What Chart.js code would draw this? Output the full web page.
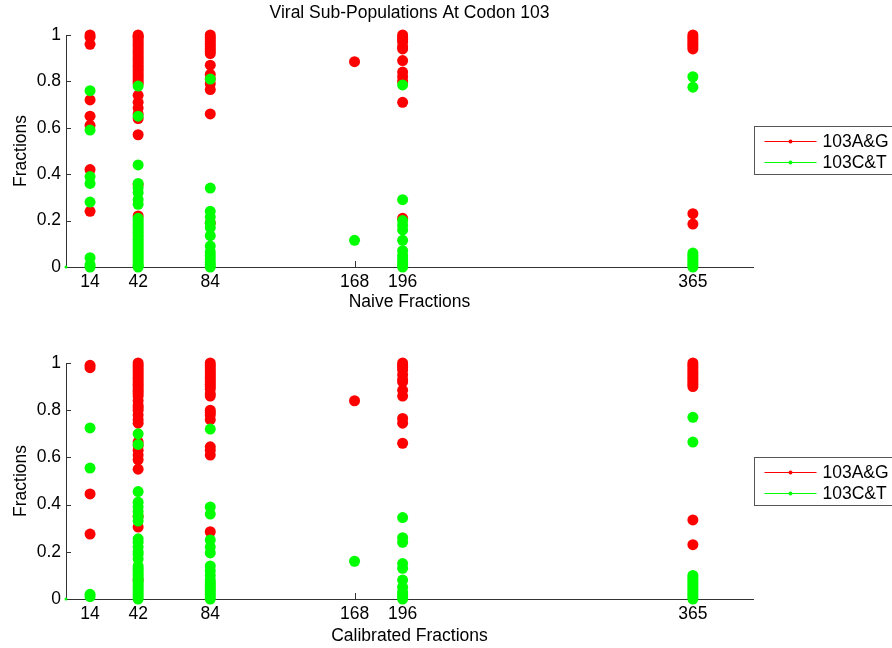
<!DOCTYPE html>
<html>
<head>
<meta charset="utf-8">
<title>Viral Sub-Populations At Codon 103</title>
<script src="https://cdn.jsdelivr.net/npm/chart.js@4.4.1/dist/chart.umd.min.js"></script>
<style>
  html, body { margin: 0; padding: 0; background: #ffffff; }
  canvas { display: block; }
</style>
</head>
<body>
<canvas id="naive" width="892" height="320"></canvas>
<canvas id="calibrated" width="892" height="328"></canvas>
<script>
// Sampling days (x positions and x tick labels)
const days = [14, 42, 84, 168, 196, 365];
const seriesNames = ['103A&G', '103C&T'];
const yTickValues = [0, 0.2, 0.4, 0.6, 0.8, 1];

// Naive fractions, one list per sampling day
const naiveAG = [
  [1.0, 0.99, 0.96, 0.72, 0.65, 0.61, 0.42, 0.24],
  [1.0, 0.995, 0.99, 0.98, 0.97, 0.96, 0.95, 0.94, 0.93, 0.92, 0.91, 0.90, 0.89, 0.88, 0.87, 0.86,
   0.85, 0.84, 0.83, 0.82, 0.81, 0.80, 0.79, 0.74, 0.71, 0.685, 0.66, 0.64, 0.57, 0.355, 0.22],
  [1.0, 0.99, 0.98, 0.97, 0.96, 0.95, 0.94, 0.93, 0.92, 0.87, 0.83, 0.81, 0.79, 0.765, 0.66, 0.19],
  [0.885],
  [1.0, 0.99, 0.98, 0.97, 0.95, 0.94, 0.89, 0.84, 0.82, 0.80, 0.71, 0.21],
  [1.0, 0.99, 0.98, 0.97, 0.96, 0.95, 0.94, 0.23, 0.185]
];
const naiveCT = [
  [0.0, 0.01, 0.04, 0.28, 0.36, 0.39, 0.59, 0.76],
  [0.0, 0.005, 0.01, 0.02, 0.03, 0.04, 0.05, 0.06, 0.07, 0.08, 0.09, 0.10, 0.11, 0.12, 0.13, 0.14,
   0.15, 0.16, 0.17, 0.18, 0.19, 0.20, 0.21, 0.27, 0.29, 0.32, 0.34, 0.36, 0.44, 0.65, 0.78],
  [0.0, 0.01, 0.02, 0.035, 0.05, 0.065, 0.09, 0.135, 0.17, 0.19, 0.215, 0.24, 0.34, 0.81],
  [0.115],
  [0.0, 0.01, 0.02, 0.035, 0.05, 0.07, 0.115, 0.16, 0.18, 0.20, 0.29, 0.785],
  [0.0, 0.01, 0.02, 0.03, 0.04, 0.05, 0.06, 0.775, 0.82]
];

// Calibrated fractions, one list per sampling day
const calibAG = [
  [0.99, 0.98, 0.445, 0.275],
  [1.0, 0.99, 0.98, 0.97, 0.96, 0.95, 0.94, 0.93, 0.92, 0.91, 0.90, 0.89, 0.88, 0.87, 0.86, 0.84,
   0.82, 0.81, 0.80, 0.78, 0.76, 0.745, 0.665, 0.65, 0.63, 0.61, 0.59, 0.55, 0.35, 0.305, 0.08],
  [1.0, 0.99, 0.98, 0.97, 0.96, 0.95, 0.94, 0.93, 0.92, 0.91, 0.90, 0.89, 0.87, 0.86, 0.80, 0.79,
   0.78, 0.76, 0.645, 0.63, 0.61, 0.285],
  [0.84],
  [1.0, 0.99, 0.98, 0.97, 0.95, 0.93, 0.92, 0.885, 0.86, 0.765, 0.745, 0.66],
  [1.0, 0.99, 0.98, 0.97, 0.96, 0.95, 0.94, 0.93, 0.92, 0.91, 0.90, 0.335, 0.23]
];
const calibCT = [
  [0.01, 0.02, 0.555, 0.725],
  [0.0, 0.01, 0.02, 0.03, 0.04, 0.05, 0.06, 0.07, 0.08, 0.09, 0.10, 0.11, 0.12, 0.13, 0.14, 0.17,
   0.19, 0.20, 0.22, 0.24, 0.255, 0.33, 0.35, 0.37, 0.39, 0.41, 0.455, 0.655, 0.70],
  [0.0, 0.01, 0.02, 0.03, 0.04, 0.05, 0.06, 0.07, 0.08, 0.10, 0.12, 0.14, 0.195, 0.22, 0.25, 0.36,
   0.39, 0.72],
  [0.16],
  [0.0, 0.01, 0.02, 0.03, 0.05, 0.08, 0.13, 0.15, 0.24, 0.26, 0.345],
  [0.0, 0.01, 0.02, 0.03, 0.04, 0.05, 0.06, 0.07, 0.08, 0.09, 0.10, 0.665, 0.77]
];

// Stray marker sitting at the origin of each panel
const originMark = [[0, 0]];

const FONT = '"Liberation Sans", Arial, Helvetica, sans-serif';
const FONT_SIZE = 17.5;
const AXIS_COLOR = '#333333';
const RED = '#ff0000';
const GREEN = '#00ff00';

function toPoints(groups) {
  return groups.flatMap((vals, i) => vals.map(v => ({ x: days[i], y: v })));
}

// Title above the upper panel, centred on the plotting area
const titlePlugin = {
  id: 'panelTitle',
  afterDraw(chart, args, opts) {
    if (!opts.text) return;
    const { ctx, chartArea } = chart;
    ctx.save();
    ctx.font = FONT_SIZE + 'px ' + FONT;
    ctx.fillStyle = '#000';
    ctx.textAlign = 'center';
    ctx.textBaseline = 'middle';
    ctx.fillText(opts.text, (chartArea.left + chartArea.right) / 2, opts.y);
    ctx.restore();
  }
};

// Short tick marks pointing into the plot area
const innerTicks = {
  id: 'innerTicks',
  beforeDatasetsDraw(chart) {
    const { ctx, chartArea, scales } = chart;
    ctx.save();
    ctx.strokeStyle = AXIS_COLOR;
    ctx.lineWidth = 1;
    ctx.beginPath();
    scales.y.ticks.forEach(t => {
      const y = Math.round(scales.y.getPixelForValue(t.value)) + 0.5;
      ctx.moveTo(chartArea.left, y);
      ctx.lineTo(chartArea.left + 5, y);
    });
    scales.x.ticks.forEach(t => {
      const x = Math.round(scales.x.getPixelForValue(t.value)) + 0.5;
      ctx.moveTo(x, chartArea.bottom);
      ctx.lineTo(x, chartArea.bottom - 6);
    });
    ctx.stroke();
    ctx.restore();
  }
};

// Boxed legend to the right of the plotting area
const sideLegend = {
  id: 'sideLegend',
  afterDraw(chart, args, opts) {
    const { ctx, chartArea } = chart;
    const items = chart.data.datasets.filter(d => d.inLegend);
    const x0 = chartArea.right + 1.5;
    const y0 = opts.top + 0.5;
    ctx.save();
    ctx.fillStyle = '#ffffff';
    ctx.fillRect(x0, y0, 160, 48);
    ctx.strokeStyle = '#555555';
    ctx.lineWidth = 1;
    ctx.strokeRect(x0, y0, 160, 48);
    ctx.font = FONT_SIZE + 'px ' + FONT;
    ctx.textBaseline = 'middle';
    ctx.textAlign = 'left';
    items.forEach((d, i) => {
      const y = Math.round(y0 + 14.5 + i * 20.5) + 0.5;
      ctx.strokeStyle = d.backgroundColor;
      ctx.beginPath();
      ctx.moveTo(x0 + 10, y);
      ctx.lineTo(x0 + 62, y);
      ctx.stroke();
      ctx.fillStyle = d.backgroundColor;
      ctx.beginPath();
      ctx.arc(x0 + 36, y, 2, 0, Math.PI * 2);
      ctx.fill();
      ctx.fillStyle = '#000';
      ctx.fillText(d.label, x0 + 68, y + 1);
    });
    ctx.restore();
  }
};

function makePanel(id, ag, ct, xTitle, cfg) {
  return new Chart(document.getElementById(id), {
    type: 'scatter',
    data: {
      datasets: [
        {
          label: seriesNames[0], inLegend: true,
          data: toPoints(ag),
          backgroundColor: RED, borderColor: RED, borderWidth: 0,
          pointRadius: 5.5, pointHoverRadius: 5.5, clip: false, order: 1
        },
        {
          label: seriesNames[1], inLegend: true,
          data: toPoints(ct),
          backgroundColor: GREEN, borderColor: GREEN, borderWidth: 0,
          pointRadius: 5.5, pointHoverRadius: 5.5, clip: false, order: 0
        },
        {
          label: 'origin', inLegend: false,
          data: originMark.map(p => ({ x: p[0], y: p[1] })),
          backgroundColor: GREEN, borderColor: GREEN, borderWidth: 0,
          pointRadius: 1.5, clip: false, order: 2
        }
      ]
    },
    options: {
      responsive: false,
      devicePixelRatio: 1,
      animation: false,
      events: [],
      layout: { padding: { left: 0, right: 139, top: cfg.padTop, bottom: cfg.padBottom } },
      plugins: {
        legend: { display: false },
        tooltip: { enabled: false },
        panelTitle: { text: cfg.title || '', y: 13 },
        sideLegend: { top: cfg.legendTop }
      },
      scales: {
        x: {
          type: 'linear', min: 0, max: 400,
          afterBuildTicks(scale) { scale.ticks = days.map(v => ({ value: v })); },
          afterFit(scale) { scale.height = cfg.xHeight; },
          grid: { display: false, drawTicks: false },
          border: { display: true, color: AXIS_COLOR, width: 1 },
          ticks: {
            autoSkip: false, maxRotation: 0, padding: 5,
            color: '#000', font: { family: FONT, size: FONT_SIZE },
            callback: v => String(v)
          },
          title: {
            display: true, text: xTitle, color: '#000',
            font: { family: FONT, size: FONT_SIZE }, padding: { top: 0, bottom: 0 }
          }
        },
        y: {
          type: 'linear', min: 0, max: 1,
          afterBuildTicks(scale) { scale.ticks = yTickValues.map(v => ({ value: v })); },
          afterFit(scale) { scale.width = 66; },
          grid: { display: false, drawTicks: false },
          border: { display: true, color: AXIS_COLOR, width: 1 },
          ticks: {
            padding: 5, color: '#000', font: { family: FONT, size: FONT_SIZE },
            callback: v => String(+v.toFixed(1))
          },
          title: {
            display: true, text: 'Fractions', color: '#000',
            font: { family: FONT, size: FONT_SIZE }, padding: { top: 11, bottom: 0 }
          }
        }
      }
    },
    plugins: [innerTicks, titlePlugin, sideLegend]
  });
}

makePanel('naive', naiveAG, naiveCT, 'Naive Fractions',
  { padTop: 35, padBottom: 7, xHeight: 46, legendTop: 126, title: 'Viral Sub-Populations At Codon 103' });
makePanel('calibrated', calibAG, calibCT, 'Calibrated Fractions',
  { padTop: 43, padBottom: 1, xHeight: 48, legendTop: 137 });
</script>
</body>
</html>
